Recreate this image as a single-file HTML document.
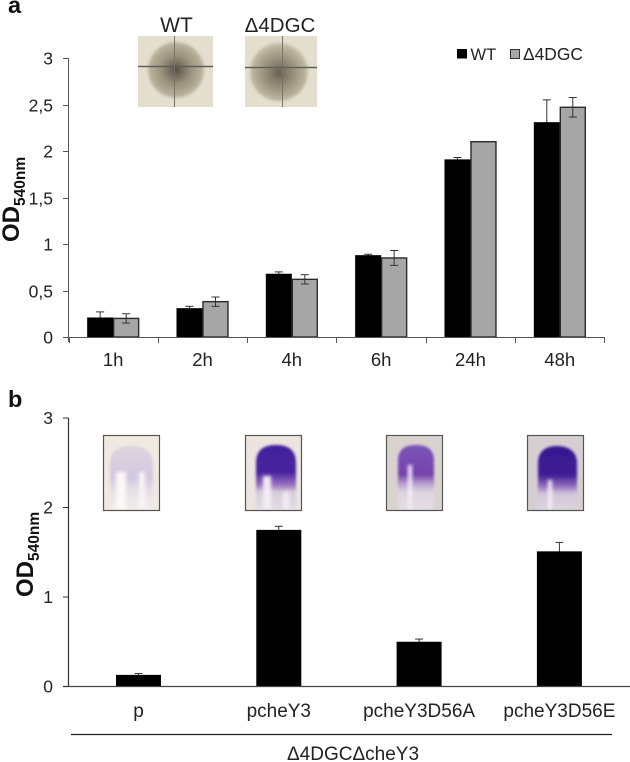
<!DOCTYPE html>
<html lang="en">
<head>
<meta charset="utf-8">
<title>Biofilm OD540nm bar charts</title>
<style>
html,body{margin:0;padding:0;background:#fff;width:630px;height:762px;overflow:hidden}
svg{display:block}
text{font-family:"Liberation Sans","DejaVu Sans",sans-serif;fill:#222}
</style>
</head>
<body>
<svg id="figure" xmlns="http://www.w3.org/2000/svg" width="630" height="762" viewBox="0 0 630 762">
<defs>
<filter id="soft" x="-10%" y="-10%" width="120%" height="120%"><feGaussianBlur stdDeviation="1.2"/></filter>
<filter id="soft2" x="-60%" y="-20%" width="220%" height="140%"><feGaussianBlur stdDeviation="1.8"/></filter>
<radialGradient id="colony1" gradientUnits="userSpaceOnUse" cx="176" cy="70" r="29">
<stop offset="0" stop-color="#4f483b"/><stop offset="0.16" stop-color="#6d6555"/><stop offset="0.5" stop-color="#9a927d"/><stop offset="0.85" stop-color="#b4ad97"/><stop offset="1" stop-color="#c6c0aa"/>
</radialGradient>
<radialGradient id="colony2" gradientUnits="userSpaceOnUse" cx="279" cy="73" r="29">
<stop offset="0" stop-color="#645c4d"/><stop offset="0.2" stop-color="#7f7665"/><stop offset="0.55" stop-color="#9c947f"/><stop offset="0.85" stop-color="#b5ae98"/><stop offset="1" stop-color="#c6c0aa"/>
</radialGradient>
<linearGradient id="stainFaint" x1="0" y1="0" x2="0" y2="1">
<stop offset="0" stop-color="#ddd5de"/><stop offset="0.5" stop-color="#d2c8e0"/><stop offset="0.7" stop-color="#e6e0e6"/><stop offset="1" stop-color="#f1ecec"/>
</linearGradient>
<linearGradient id="stainDark" x1="0" y1="0" x2="0" y2="1">
<stop offset="0" stop-color="#3f1f9c"/><stop offset="0.42" stop-color="#4a22a0"/><stop offset="0.62" stop-color="#9b75c0"/><stop offset="0.72" stop-color="#d5cbdc"/><stop offset="1" stop-color="#e2dce2"/>
</linearGradient>
<linearGradient id="stainMid" x1="0" y1="0" x2="0" y2="1">
<stop offset="0" stop-color="#7a55b8"/><stop offset="0.45" stop-color="#7742ad"/><stop offset="0.6" stop-color="#b99fd0"/><stop offset="0.72" stop-color="#ddd3e0"/><stop offset="1" stop-color="#e4dee2"/>
</linearGradient>
<linearGradient id="stainDeep" x1="0" y1="0" x2="0" y2="1">
<stop offset="0" stop-color="#37188f"/><stop offset="0.45" stop-color="#3f1c96"/><stop offset="0.62" stop-color="#8f6cbc"/><stop offset="0.75" stop-color="#d2c6dc"/><stop offset="1" stop-color="#dcd5de"/>
</linearGradient>
</defs>

<text x="8" y="13" font-size="23.500" font-weight="700" style="fill:#111">a</text>
<text x="8" y="407" font-size="23.500" font-weight="700" style="fill:#111">b</text>

<!-- colony photos -->
<g>
<rect x="138" y="36" width="75" height="71" fill="#e3deCd"/>
<circle cx="176" cy="70" r="28" fill="url(#colony1)" filter="url(#soft)"/>
<line x1="174.500" y1="36" x2="174.500" y2="107" stroke="#77736a" stroke-width="1"/>
<line x1="138" y1="66.500" x2="213" y2="66.500" stroke="#5f5f58" stroke-width="1.600"/>
</g>
<g>
<rect x="245" y="36" width="72" height="71" fill="#e3decd"/>
<circle cx="279" cy="72" r="29" fill="url(#colony2)" filter="url(#soft)"/>
<line x1="282.500" y1="36" x2="282.500" y2="107" stroke="#77736a" stroke-width="1"/>
<line x1="245" y1="67.500" x2="317" y2="67.500" stroke="#5f635f" stroke-width="1.600"/>
</g>
<text x="176.500" y="32" font-size="21" text-anchor="middle">WT</text>
<text x="280" y="32" font-size="20.500" text-anchor="middle">Δ4DGC</text>

<!-- tube photos -->
<g>
<rect x="103.500" y="435.500" width="56" height="75" fill="#f0e9e0"/>
<path d="M110 510V465C110 449 120 446 131 446C142 446 153 449 153 465V510Z" fill="url(#stainFaint)" filter="url(#soft)"/>
<rect x="116" y="472" width="10" height="38" fill="#fbf8f7" filter="url(#soft2)"/>
<rect x="139" y="472" width="6" height="38" fill="#f8f5f4" filter="url(#soft2)"/>
<rect x="103.500" y="435.500" width="56" height="75" fill="none" stroke="#555" stroke-width="1.200"/>
</g>
<g>
<rect x="245.500" y="435.500" width="56" height="75" fill="#ece4de"/>
<path d="M256 510V463C256 449 265 445 276 445C287 445 296 449 296 463V510Z" fill="url(#stainDark)" filter="url(#soft)"/>
<rect x="263" y="476" width="8" height="34" fill="#f2edf2" filter="url(#soft2)"/>
<rect x="283" y="492" width="6" height="18" fill="#f2edf2" filter="url(#soft2)"/>
<rect x="245.500" y="435.500" width="56" height="75" fill="none" stroke="#555" stroke-width="1.200"/>
</g>
<g>
<rect x="386.500" y="435.500" width="56" height="75" fill="#d9d3d0"/>
<path d="M398 510V461C398 449 405 445 416 445C427 445 434 449 434 461V510Z" fill="url(#stainMid)" filter="url(#soft)"/>
<rect x="408" y="465" width="4" height="45" fill="#f3eff5" filter="url(#soft2)"/>
<rect x="386.500" y="435.500" width="56" height="75" fill="none" stroke="#555" stroke-width="1.200"/>
</g>
<g>
<rect x="527.500" y="435.500" width="56" height="75" fill="#d6cfd2"/>
<path d="M538 510V463C538 451 546 446 557 446C568 446 577 451 577 463V510Z" fill="url(#stainDeep)" filter="url(#soft)"/>
<rect x="548" y="480" width="4" height="30" fill="#f3eff5" filter="url(#soft2)"/>
<rect x="527.500" y="435.500" width="56" height="75" fill="none" stroke="#555" stroke-width="1.200"/>
</g>

<g id="chartA"></g>
<g id="chartB"></g>

<!-- y axis titles -->
<text transform="translate(19,242) rotate(-90)" font-size="24" font-weight="700" style="fill:#111">OD<tspan dy="6" font-size="15.500">540nm</tspan></text>
<text transform="translate(33,597) rotate(-90)" font-size="24" font-weight="700" style="fill:#111">OD<tspan dy="6" font-size="15.500">540nm</tspan></text>

<!-- legend -->
<g>
<g>
<rect x="457" y="49" width="10" height="9.500" fill="#000"/>
<text x="470.500" y="60" font-size="16.500">WT</text>
</g>
<g>
<rect x="510.500" y="49.500" width="9" height="9" fill="#a6a6a6" stroke="#333" stroke-width="1"/>
<text x="523" y="60" font-size="17.400">Δ4DGC</text>
</g>
</g>

<!-- bracket -->
<line x1="71" y1="734.500" x2="612" y2="734.500" stroke="#222" stroke-width="1.200"/>
<text x="353" y="760" font-size="19" text-anchor="middle">Δ4DGCΔcheY3</text>
</svg>

<script>
// Panel A data
var timeLabels = ['1h', '2h', '4h', '6h', '24h', '48h'];
var wtValues = [0.21, 0.31, 0.68, 0.88, 1.91, 2.31];
var wtErrors = [0.06, 0.02, 0.02, 0.01, 0.02, 0.24];
var mutantValues = [0.20, 0.38, 0.62, 0.85, 2.10, 2.47];
var mutantErrors = [0.05, 0.05, 0.05, 0.08, 0, 0.105];
var yTicksA = ['0', '0,5', '1', '1,5', '2', '2,5', '3'];
var yTickValuesA = [0, 0.5, 1, 1.5, 2, 2.5, 3];

// Panel B data
var plasmidLabels = ['p', 'pcheY3', 'pcheY3D56A', 'pcheY3D56E'];
var plasmidValues = [0.13, 1.75, 0.50, 1.51];
var plasmidErrors = [0.015, 0.04, 0.03, 0.10];
var yTicksB = ['0', '1', '2', '3'];
var yTickValuesB = [0, 1, 2, 3];

var NS = 'http://www.w3.org/2000/svg';

function make(parent, tag, attrs, text) {
  var el = document.createElementNS(NS, tag);
  for (var k in attrs) { el.setAttribute(k, attrs[k]); }
  if (text !== undefined) { el.textContent = text; }
  parent.appendChild(el);
  return el;
}

// Axis functions
function yA(v) { return 337 - v * 93; }
function xA(i) { return 68.5 + 89.33 * i; }
function yB(v) { return 686.5 - v * 89.5; }
function xB(i) { return 138.5 + 140.3 * i; }

var chartA = document.getElementById('chartA');
var chartB = document.getElementById('chartB');

function drawError(parent, cx, top, bottom, capHalf, name) {
  var g = make(parent, 'g', {stroke: '#333', 'stroke-width': 1, fill: 'none'});
  
  
  make(g, 'line', {x1: cx, x2: cx, y1: top, y2: bottom});
  make(g, 'line', {x1: cx - capHalf, x2: cx + capHalf, y1: top, y2: top});
  make(g, 'line', {x1: cx - capHalf, x2: cx + capHalf, y1: bottom, y2: bottom});
}

// Panel A y axis
var axisA = make(chartA, 'line', {x1: 68.5, x2: 68.5, y1: yA(3), y2: yA(0) + 5, stroke: '#555', 'stroke-width': 1});


yTickValuesA.forEach(function (v, i) {
  var y = Math.round(yA(v)) + 0.5;
  var tick = make(chartA, 'line', {x1: 63, x2: 68.5, y1: y, y2: y, stroke: '#555', 'stroke-width': 1});
  
  
  var label = make(chartA, 'text', {x: 53, y: y + 6, 'font-size': 17.5, 'text-anchor': 'end'}, yTicksA[i]);
  
  
});

// Panel A bars
timeLabels.forEach(function (name, i) {
  var cx = xA(i) + 44.65;
  if (wtErrors[i] > 0) {
    drawError(chartA, cx - 13, yA(wtValues[i] + wtErrors[i]), yA(wtValues[i] - wtErrors[i]), 4, 'error-bar-wt-' + name);
  }
  var wt = make(chartA, 'rect', {x: cx - 26, y: yA(wtValues[i]), width: 26, height: 337 - yA(wtValues[i]), fill: '#000'});
  
  
  var mu = make(chartA, 'rect', {x: cx + 0.5, y: yA(mutantValues[i]), width: 25, height: 337 - yA(mutantValues[i]), fill: '#a6a6a6', stroke: '#2b2b2b', 'stroke-width': 1.4});
  
  
  if (mutantErrors[i] > 0) {
    drawError(chartA, cx + 13, yA(mutantValues[i] + mutantErrors[i]), yA(mutantValues[i] - mutantErrors[i]), 4, 'error-bar-delta4dgc-' + name);
  }
  var label = make(chartA, 'text', {x: cx, y: 366, 'font-size': 18.5, 'text-anchor': 'middle'}, name);
  
  
});

// Panel A x axis
var baseA = make(chartA, 'line', {x1: 63, x2: xA(timeLabels.length), y1: 337.5, y2: 337.5, stroke: '#555', 'stroke-width': 1});


for (var t = 0; t <= timeLabels.length; t++) {
  var xt = Math.round(xA(t)) + 0.5;
  var xTick = make(chartA, 'line', {x1: xt, x2: xt, y1: 337, y2: 343, stroke: '#555', 'stroke-width': 1});
  
  
}

// Panel B bars
plasmidLabels.forEach(function (name, i) {
  var cx = xB(i);
  drawError(chartB, cx, yB(plasmidValues[i] + plasmidErrors[i]), yB(plasmidValues[i]) + 1, 4, 'error-bar-' + name);
  var bar = make(chartB, 'rect', {x: cx - 22.5, y: yB(plasmidValues[i]), width: 45, height: 686.5 - yB(plasmidValues[i]), fill: '#000'});
  
  
  var label = make(chartB, 'text', {x: cx, y: 717, 'font-size': 19, 'text-anchor': 'middle'}, name);
  
  
});

// Panel B axes
var axisB = make(chartB, 'line', {x1: 68.5, x2: 68.5, y1: yB(3), y2: yB(0), stroke: '#333', 'stroke-width': 1.2});


var baseB = make(chartB, 'line', {x1: 63, x2: 630, y1: 686.5, y2: 686.5, stroke: '#444', 'stroke-width': 1.2});


yTickValuesB.forEach(function (v, i) {
  var y = yB(v);
  var tick = make(chartB, 'line', {x1: 63, x2: 68.5, y1: y, y2: y, stroke: '#333', 'stroke-width': 1});
  
  
  var label = make(chartB, 'text', {x: 53, y: y + 6, 'font-size': 17.5, 'text-anchor': 'end'}, yTicksB[i]);
  
  
});
</script>
</body>
</html>
